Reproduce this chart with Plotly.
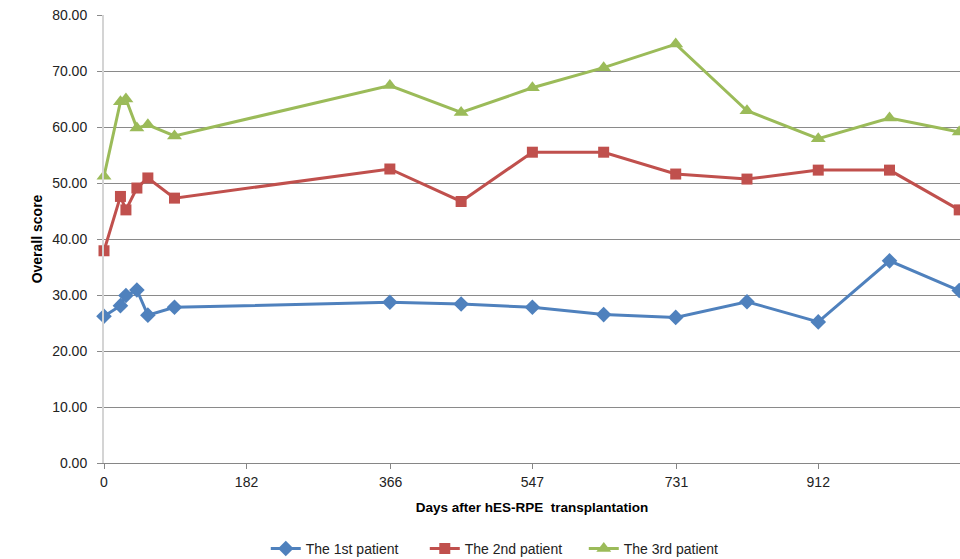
import plotly.graph_objects as go

# Follow-up days after transplantation
days = [0, 21, 28, 42, 56, 90, 365, 456, 547, 638, 730, 821, 912, 1003, 1092]

# Overall score per patient
patient1 = [26.2, 28.1, 29.9, 30.9, 26.4, 27.8, 28.7, 28.4, 27.8, 26.5, 26.0, 28.8, 25.2, 36.1, 30.8]
patient2 = [37.9, 47.6, 45.2, 49.1, 50.9, 47.3, 52.5, 46.7, 55.5, 55.5, 51.6, 50.7, 52.3, 52.3, 45.2]
patient3 = [51.2, 64.5, 65.0, 59.8, 60.4, 58.4, 67.4, 62.6, 67.0, 70.6, 74.8, 62.9, 57.9, 61.6, 59.1]

series_names = ["The 1st patient", "The 2nd patient", "The 3rd patient"]
x_tick_vals = [0, 182, 366, 547, 731, 912]
x_tick_text = ["0", "182", "366", "547", "731", "912"]
y_tick_vals = [0, 10, 20, 30, 40, 50, 60, 70, 80]

FONT = "Liberation Sans"
styles = [
    dict(color="#4F81BD", symbol="diamond", size=12),
    dict(color="#C0504D", symbol="square", size=11),
    dict(color="#9BBB59", symbol="triangle-up", size=13),
]

fig = go.Figure()
for name, values, st in zip(series_names, [patient1, patient2, patient3], styles):
    fig.add_trace(go.Scatter(
        x=days, y=values, name=name, mode="lines+markers",
        line=dict(color=st["color"], width=3),
        marker=dict(symbol=st["symbol"], size=st["size"], color=st["color"],
                    line=dict(width=0)),
        cliponaxis=False,
    ))

fig.update_layout(
    width=960, height=559,
    margin=dict(l=104, r=0, t=15, b=96, autoexpand=False),
    paper_bgcolor="white", plot_bgcolor="white",
    font=dict(family=FONT, size=13, color="#222222"),
    showlegend=True,
    legend=dict(orientation="h", x=0.189, xanchor="left",
                yref="container", y=0.018, yanchor="middle",
                font=dict(size=14, color="#222222"), itemwidth=30,
                entrywidth=114, tracegroupgap=0),
)

fig.update_xaxes(
    range=[0, 1093], tickmode="array", tickvals=x_tick_vals, ticktext=x_tick_text,
    showgrid=False, zeroline=False,
    showline=True, linecolor="#868686", linewidth=1,
    ticks="outside", ticklen=5, tickcolor="#868686",
    tickfont=dict(size=14, color="#222222"), ticklabelstandoff=1,
    title=dict(text="<b>Days after hES-RPE  transplantation</b>",
               font=dict(size=13.5, color="#000000"), standoff=13),
)

fig.update_yaxes(
    range=[0, 80], tickmode="array", tickvals=y_tick_vals, tickformat=".2f",
    showgrid=True, gridcolor="#8a8a8a", gridwidth=1, zeroline=False,
    showline=True, linecolor="#d4d4d4", linewidth=2,
    ticks="outside", ticklen=5, tickcolor="#8a8a8a",
    tickfont=dict(size=14, color="#222222"), ticklabelstandoff=7,
    title=dict(text="<b>Overall score</b>", font=dict(size=14, color="#000000"), standoff=6),
)

fig.write_html("out.html")
